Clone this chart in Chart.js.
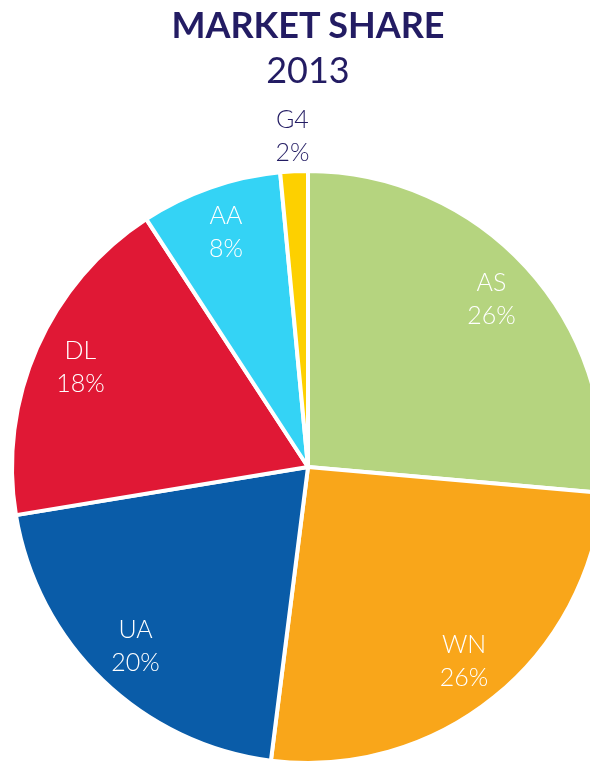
<!DOCTYPE html>
<html>
<head>
<meta charset="utf-8">
<script src="https://cdn.jsdelivr.net/npm/chart.js@4/dist/chart.umd.min.js"></script>
<style>
  html, body { margin: 0; padding: 0; width: 590px; height: 761px; overflow: hidden; background: #fff; }
  #wrap { position: absolute; left: 0; top: 0; width: 616px; height: 765px; }
  .t { position: absolute; left: 0; width: 616px; text-align: center; color: #231c63; font-family: Lato, "Open Sans", sans-serif; }
  #t1 { top: 2px; font-size: 36px; font-weight: 700; }
  #t2 { top: 47px; font-size: 36px; font-weight: 400; }
</style>
</head>
<body>
<div id="wrap"><canvas id="c"></canvas></div>
<div class="t" id="t1">MARKET SHARE</div>
<div class="t" id="t2">2013</div>
<script>
const categories = ["AS", "WN", "UA", "DL", "AA", "G4"];
const shares = [26.4, 25.6, 20.4, 18.4, 7.7, 1.5];
const shareLabels = ["26%", "26%", "20%", "18%", "8%", "2%"];
const colors = ["#b5d47f", "#f9a61a", "#0a5ca8", "#e01835", "#34d3f5", "#fdd000"];

const labelPlugin = {
  id: 'sliceLabels',
  afterDatasetsDraw(chart) {
    const ctx = chart.ctx;
    const meta = chart.getDatasetMeta(0);
    ctx.save();
    ctx.textAlign = 'center';
    ctx.textBaseline = 'middle';
    ctx.font = '300 25px Lato, "Open Sans", sans-serif';
    meta.data.forEach((arc, i) => {
      const p = arc.getProps(['x', 'y', 'startAngle', 'endAngle', 'outerRadius'], true);
      const mid = (p.startAngle + p.endAngle) / 2;
      const outside = shares[i] < 5;
      const r = p.outerRadius * (outside ? 1.12 : 0.84);
      const x = p.x + Math.cos(mid) * r;
      const y = p.y + Math.sin(mid) * r;
      ctx.fillStyle = outside ? '#231c63' : '#ffffff';
      ctx.fillText(categories[i], x, y - 16);
      ctx.fillText(shareLabels[i], x, y + 17);
    });
    ctx.restore();
  }
};

new Chart(document.getElementById('c'), {
  type: 'pie',
  data: {
    labels: categories,
    datasets: [{
      data: shares,
      backgroundColor: colors,
      borderColor: '#ffffff',
      borderWidth: 4,
      hoverOffset: 0,
      clip: false
    }]
  },
  options: {
    responsive: true,
    maintainAspectRatio: false,
    animation: false,
    layout: { padding: { top: 169, left: 0, right: 0, bottom: 0 } },
    plugins: { legend: { display: false }, tooltip: { enabled: false }, title: { display: false } }
  },
  plugins: [labelPlugin]
});
</script>
</body>
</html>
